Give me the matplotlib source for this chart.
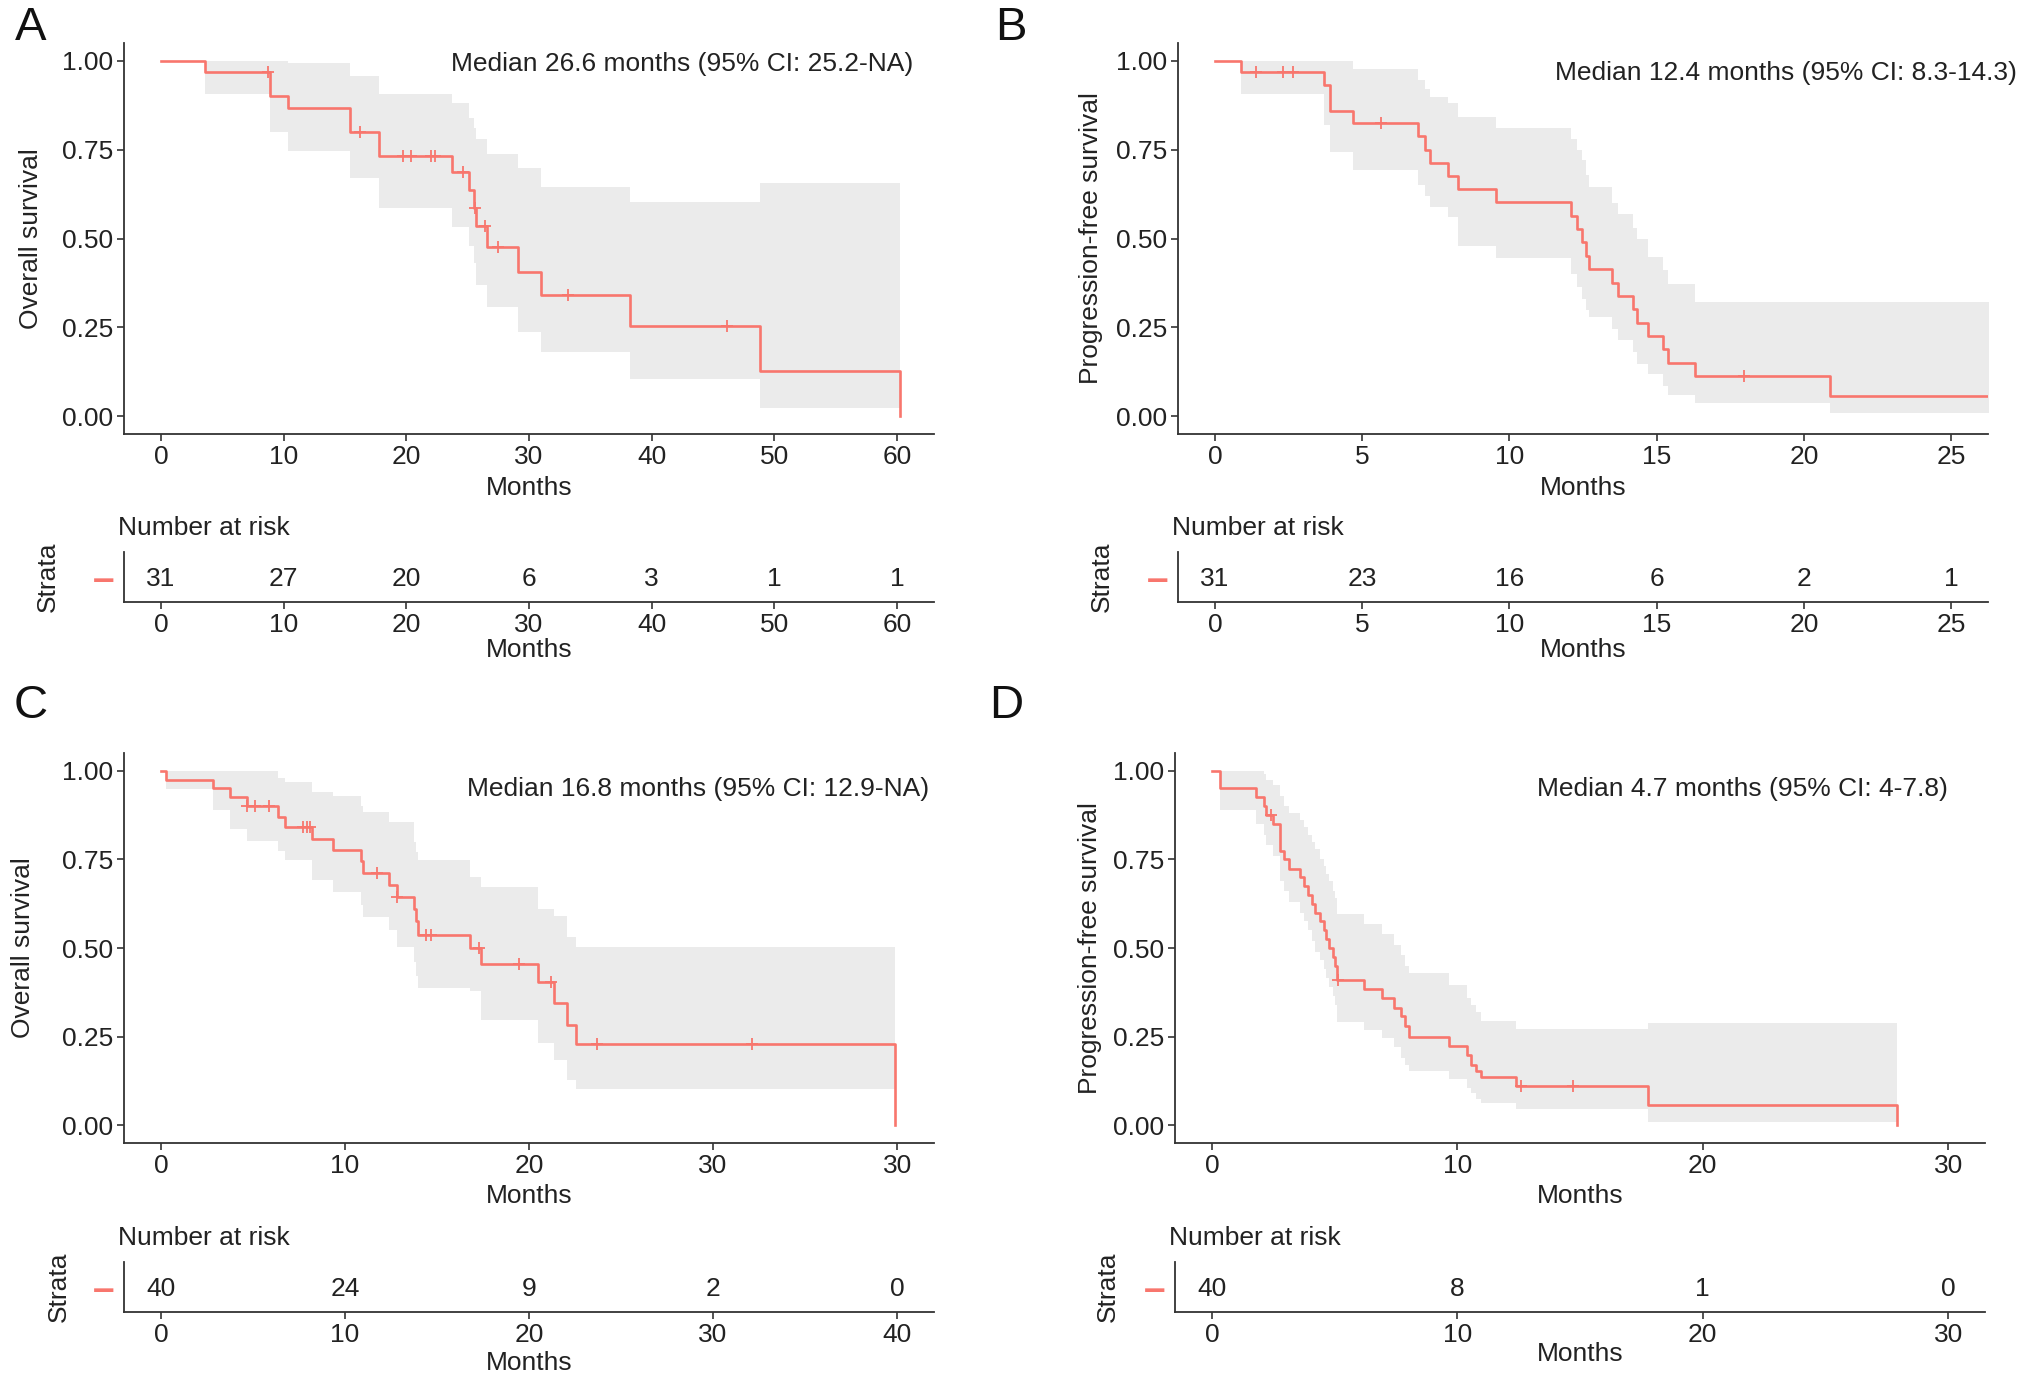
import matplotlib
matplotlib.use('Agg')
import matplotlib.pyplot as plt
import numpy as np

plt.rcParams['font.family'] = ['Liberation Sans', 'DejaVu Sans']
plt.rcParams['font.size'] = 19

RED = '#F8766D'
BAND = '#EBEBEB'
INK = '#222222'
AXC = '#333333'

# ---- panel A: overall survival, cohort 1
a_time = [3.6, 8.9, 10.4, 15.4, 17.8, 23.7, 25.1, 25.5, 25.7, 26.6, 29.1, 31.0, 38.2, 48.8, 60.2]
a_surv = [0.968, 0.90, 0.868, 0.80, 0.732, 0.688, 0.636, 0.587, 0.535, 0.477, 0.406, 0.341, 0.254, 0.128, 0.0]
a_upper = [1.0, 1.0, 0.995, 0.957, 0.906, 0.88, 0.84, 0.81, 0.78, 0.739, 0.697, 0.645, 0.603, 0.655]
a_lower = [0.906, 0.80, 0.747, 0.669, 0.587, 0.533, 0.48, 0.43, 0.369, 0.308, 0.237, 0.181, 0.106, 0.024]
a_cens = [8.7, 16.2, 19.7, 20.4, 22.0, 22.3, 24.6, 25.6, 26.4, 27.5, 33.2, 46.1]
a_end = 60.2
a_risk_t = [0, 10, 20, 30, 40, 50, 60]
a_risk_n = [31, 27, 20, 6, 3, 1, 1]

# ---- panel B: progression-free survival, cohort 1
b_time = [0.9, 3.7, 3.9, 4.7, 6.9, 7.15, 7.3, 7.9, 8.25, 9.55, 12.1, 12.3, 12.45, 12.6, 12.7,
          13.5, 13.7, 14.2, 14.35, 14.7, 15.2, 15.4, 16.3, 20.9]
b_surv = [0.968, 0.932, 0.86, 0.825, 0.789, 0.75, 0.711, 0.675, 0.638, 0.602, 0.564, 0.526, 0.489, 0.451, 0.414,
          0.376, 0.338, 0.301, 0.263, 0.225, 0.188, 0.150, 0.113, 0.056]
b_upper = [1.0, 1.0, 1.0, 0.976, 0.946, 0.92, 0.899, 0.88, 0.842, 0.811, 0.78, 0.75, 0.72, 0.68, 0.645,
           0.60, 0.57, 0.53, 0.50, 0.448, 0.41, 0.373, 0.322, 0.322]
b_lower = [0.906, 0.82, 0.744, 0.694, 0.65, 0.62, 0.589, 0.56, 0.478, 0.444, 0.40, 0.364, 0.33, 0.30, 0.28,
           0.245, 0.215, 0.18, 0.148, 0.12, 0.085, 0.059, 0.036, 0.008]
b_cens = [1.4, 2.3, 2.65, 5.65, 17.95]
b_end = 26.5
b_risk_t = [0, 5, 10, 15, 20, 25]
b_risk_n = [31, 23, 16, 6, 2, 1]

# ---- panel C: overall survival, cohort 2
c_time = [0.27, 2.81, 3.76, 4.66, 6.39, 6.75, 8.2, 9.33, 10.87, 11.0, 12.38, 12.83, 13.74, 13.87, 13.97,
          16.82, 17.37, 20.5, 21.36, 22.09, 22.54, 39.9]
c_surv = [0.975, 0.95, 0.925, 0.90, 0.869, 0.841, 0.808, 0.777, 0.745, 0.712, 0.677, 0.644, 0.61, 0.575, 0.538,
          0.499, 0.455, 0.405, 0.345, 0.284, 0.228, 0.0]
c_upper = [1.0, 1.0, 1.0, 1.0, 0.98, 0.967, 0.94, 0.928, 0.90, 0.883, 0.855, 0.855, 0.80, 0.77, 0.747,
           0.70, 0.672, 0.61, 0.59, 0.53, 0.504]
c_lower = [0.948, 0.888, 0.836, 0.803, 0.775, 0.747, 0.691, 0.658, 0.62, 0.588, 0.55, 0.504, 0.46, 0.42, 0.387,
           0.38, 0.298, 0.232, 0.185, 0.129, 0.101]
c_cens = [4.7, 5.1, 5.85, 7.7, 7.95, 8.1, 11.75, 12.85, 14.4, 14.65, 17.3, 19.45, 21.2, 23.7, 32.1]
c_end = 39.9
c_risk_t = [0, 10, 20, 30, 40]
c_risk_n = [40, 24, 9, 2, 0]

# ---- panel D: progression-free survival, cohort 2
d_time = [0.34, 1.81, 2.11, 2.2, 2.49, 2.79, 2.95, 3.13, 3.58, 3.74, 3.9, 4.08, 4.22, 4.42, 4.59, 4.67, 4.76,
          4.94, 5.03, 5.1, 6.19, 6.94, 7.44, 7.69, 7.85, 8.03, 9.66, 10.4, 10.57, 10.75, 10.95, 12.38, 17.77, 27.9]
d_surv = [0.95, 0.925, 0.90, 0.875, 0.85, 0.775, 0.75, 0.724, 0.70, 0.675, 0.65, 0.625, 0.60, 0.575, 0.55, 0.525,
          0.50, 0.475, 0.45, 0.41, 0.384, 0.359, 0.33, 0.307, 0.279, 0.249, 0.223, 0.199, 0.171, 0.153, 0.137,
          0.11, 0.056, 0.0]
d_upper = [1.0, 1.0, 0.99, 0.975, 0.96, 0.93, 0.90, 0.88, 0.86, 0.84, 0.82, 0.80, 0.78, 0.75, 0.73, 0.71, 0.69,
           0.66, 0.64, 0.597, 0.569, 0.54, 0.508, 0.48, 0.448, 0.429, 0.395, 0.36, 0.34, 0.32, 0.295, 0.272, 0.288]
d_lower = [0.888, 0.85, 0.82, 0.79, 0.76, 0.69, 0.66, 0.63, 0.60, 0.575, 0.55, 0.52, 0.49, 0.465, 0.44, 0.415,
           0.39, 0.365, 0.34, 0.29, 0.27, 0.245, 0.22, 0.19, 0.17, 0.153, 0.13, 0.105, 0.09, 0.075, 0.064,
           0.045, 0.009]
d_cens = [2.41, 5.13, 12.6, 14.7]
d_end = 27.9
d_risk_t = [0, 10, 20, 30]
d_risk_n = [40, 8, 1, 0]

y_ticks = [0, 0.25, 0.5, 0.75, 1.0]
y_labels = ['0.00', '0.25', '0.50', '0.75', '1.00']


def style_axis(ax):
    for s in ['top', 'right']:
        ax.spines[s].set_visible(False)
    for s in ['left', 'bottom']:
        ax.spines[s].set_color(AXC)
        ax.spines[s].set_linewidth(1.3)
    ax.tick_params(length=5, width=1.2, color=AXC, labelcolor=INK, labelsize=19, pad=3)


def km_panel(ax, times, surv, upper, lower, cens, end, xmax, ticks, ticklabels,
             ylabel, ylab_x, note, note_xy):
    times = np.asarray(times)
    surv = np.asarray(surv)
    nb = len(upper)
    xb = np.r_[0, times[:nb], end]
    ub = np.r_[1, upper, upper[-1]]
    lb = np.r_[1, lower, lower[-1]]
    ax.fill_between(xb, lb, ub, step='post', color=BAND, lw=0)
    ax.step(np.r_[0, times, end], np.r_[1, surv, surv[-1]], where='post', color=RED, lw=1.9)
    # censor ticks sit on the curve value at that time
    idx = np.searchsorted(times, cens, side='right')
    ax.plot(cens, np.r_[1, surv][idx], '+', color=RED, ms=8, mew=1.3, ls='none')

    ax.set_xlim(-0.05 * xmax, 1.05 * xmax)
    ax.set_ylim(-0.05, 1.05)
    ax.set_xticks(ticks)
    ax.set_xticklabels(ticklabels)
    ax.set_yticks(y_ticks)
    ax.set_yticklabels(y_labels)
    style_axis(ax)
    ax.set_ylabel(ylabel, fontsize=19, color=INK, va='center')
    ax.yaxis.set_label_coords(ylab_x, 0.5)
    ax.set_xlabel('Months', fontsize=19, color=INK, va='center')
    ax.xaxis.set_label_coords(0.5, -0.137)
    ax.text(note_xy[0], note_xy[1], note, ha='center', va='center', fontsize=19, color=INK)


def risk_table(ax, ticks, counts, xmax, strata_x, months_y):
    ax.set_xlim(-0.05 * xmax, 1.05 * xmax)
    ax.set_ylim(0, 1)
    for t, n in zip(ticks, counts):
        ax.text(t, 0.45, str(n), ha='center', va='center', fontsize=19, color=INK)
    ax.set_xticks(ticks)
    ax.set_xticklabels([str(t) for t in ticks])
    ax.set_yticks([0.5])
    ax.set_yticklabels(['\u2013'])
    style_axis(ax)
    ax.tick_params(axis='y', length=0, pad=7)
    lab = ax.get_yticklabels()[0]
    lab.set_color(RED)
    lab.set_fontweight('bold')
    lab.set_fontsize(28)
    ax.set_xlabel('Months', fontsize=19, color=INK, va='center')
    ax.xaxis.set_label_coords(0.5, months_y)
    ax.text(-0.0074, 1.48, 'Number at risk', transform=ax.transAxes, ha='left', va='center',
            fontsize=19, color=INK)
    ax.text(strata_x, 0.5, 'Strata', transform=ax.transAxes, rotation=90, ha='center', va='center',
            fontsize=19, color=INK)


fig = plt.figure(figsize=(20.32, 13.86), dpi=100)

W, H = 2032.0, 1386.0
ax_a = fig.add_axes([124 / W, 1 - 434 / H, 810 / W, 391 / H])
ax_b = fig.add_axes([1178 / W, 1 - 434 / H, 810 / W, 391 / H])
ax_c = fig.add_axes([124 / W, 1 - 1143 / H, 810 / W, 390 / H])
ax_d = fig.add_axes([1175 / W, 1 - 1143 / H, 810 / W, 390 / H])
tb_a = fig.add_axes([124 / W, 1 - 602 / H, 810 / W, 50 / H])
tb_b = fig.add_axes([1178 / W, 1 - 602 / H, 810 / W, 50 / H])
tb_c = fig.add_axes([124 / W, 1 - 1312 / H, 810 / W, 50 / H])
tb_d = fig.add_axes([1175 / W, 1 - 1312 / H, 810 / W, 50 / H])

km_panel(ax_a, a_time, a_surv, a_upper, a_lower, a_cens, a_end, 60,
         [0, 10, 20, 30, 40, 50, 60], ['0', '10', '20', '30', '40', '50', '60'],
         'Overall survival', -0.115, 'Median 26.6 months (95% CI: 25.2-NA)', (42.5, 0.99))
km_panel(ax_b, b_time, b_surv, b_upper, b_lower, b_cens, b_end, 25,
         [0, 5, 10, 15, 20, 25], ['0', '5', '10', '15', '20', '25'],
         'Progression-free survival', -0.107, 'Median 12.4 months (95% CI: 8.3-14.3)', (19.4, 0.966))
km_panel(ax_c, c_time, c_surv, c_upper, c_lower, c_cens, c_end, 40,
         [0, 10, 20, 30, 40], ['0', '10', '20', '30', '30'],
         'Overall survival', -0.125, 'Median 16.8 months (95% CI: 12.9-NA)', (29.2, 0.949))
km_panel(ax_d, d_time, d_surv, d_upper, d_lower, d_cens, d_end, 30,
         [0, 10, 20, 30], ['0', '10', '20', '30'],
         'Progression-free survival', -0.105, 'Median 4.7 months (95% CI: 4-7.8)', (21.6, 0.949))

risk_table(tb_a, a_risk_t, a_risk_n, 60, -0.094, -0.97)
risk_table(tb_b, b_risk_t, b_risk_n, 25, -0.094, -0.97)
risk_table(tb_c, c_risk_t, c_risk_n, 40, -0.081, -1.03)
risk_table(tb_d, d_risk_t, d_risk_n, 30, -0.083, -0.84)

for letter, (px, py) in zip('ABCD', [(31, 28.5), (1011, 28.5), (31, 706), (1006, 706)]):
    fig.text(px / W, 1 - py / H, letter, fontsize=34, ha='center', va='center', color='#111111')

fig.savefig('out.png', dpi=100, facecolor='white')
